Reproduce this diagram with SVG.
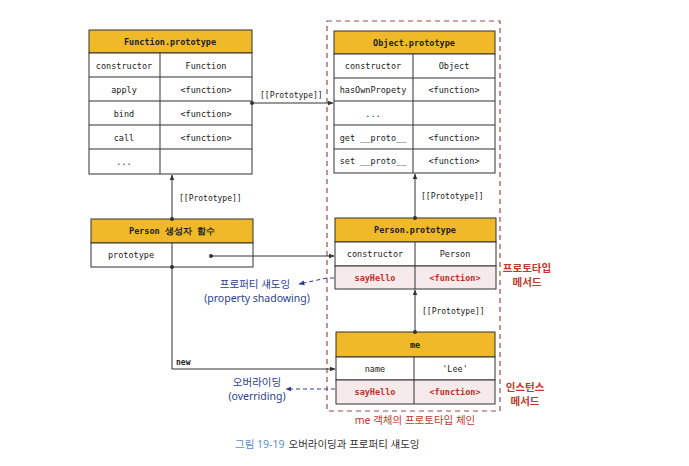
<svg xmlns="http://www.w3.org/2000/svg" width="689" height="466" viewBox="0 0 689 466">
<defs>
<style>
.bg{fill:#ffffff}
.hdr{fill:#F0B92A;stroke:#333;stroke-width:1}
.cell{fill:#ffffff;stroke:#333;stroke-width:1}
.pink{fill:#F7EAEA;stroke:#333;stroke-width:1}
.div{stroke:#333;stroke-width:1}
.mono{font-family:"DejaVu Sans Mono","Liberation Mono",monospace;font-size:8.5px;fill:#222;text-anchor:middle}
.monob{font-family:"DejaVu Sans Mono","Liberation Mono",monospace;font-size:8.5px;font-weight:bold;fill:#222;text-anchor:middle}
.red{fill:#C0302A;font-weight:bold}
.lbl{font-family:"DejaVu Sans Mono","Liberation Mono",monospace;font-size:8px;fill:#222}
.kr{font-family:"Noto Sans","Noto Sans CJK KR",sans-serif;font-size:10.5px;text-anchor:middle}
.blue{fill:#2B3F8F}
.redk{fill:#C0392B}
.conn{fill:none;stroke:#333;stroke-width:1}
.dash{fill:none;stroke:#2B3F8F;stroke-width:1;stroke-dasharray:4 3}
.chain{fill:none;stroke:#A04848;stroke-width:1.2;stroke-dasharray:5 4}
</style>
<marker id="ah" viewBox="0 0 10 10" refX="9" refY="5" markerWidth="6" markerHeight="6" orient="auto-start-reverse"><path d="M0,1 L10,5 L0,9 z" fill="#333"/></marker>
<marker id="ahb" viewBox="0 0 10 10" refX="9" refY="5" markerWidth="6" markerHeight="6" orient="auto-start-reverse"><path d="M0,1 L10,5 L0,9 z" fill="#2B3F8F"/></marker>
</defs>
<rect class="bg" x="0" y="0" width="689" height="466"/>

<g id="chain">
<rect class="chain" x="327" y="21" width="173" height="390"/>
<text class="kr redk" x="415" y="424">me 객체의 프로토타입 체인</text>
</g>

<g id="function-prototype">
<rect class="hdr" x="89" y="30" width="163" height="23"/>
<text class="monob" x="170" y="45">Function.prototype</text>
<rect class="cell" x="89" y="53" width="163" height="121"/>
<line class="div" x1="160" y1="53" x2="160" y2="174"/>
<line class="div" x1="89" y1="77" x2="252" y2="77"/>
<line class="div" x1="89" y1="101" x2="252" y2="101"/>
<line class="div" x1="89" y1="125" x2="252" y2="125"/>
<line class="div" x1="89" y1="149" x2="252" y2="149"/>
<text class="mono" x="124" y="69">constructor</text><text class="mono" x="206" y="69">Function</text>
<text class="mono" x="124" y="93">apply</text><text class="mono" x="206" y="93">&lt;function&gt;</text>
<text class="mono" x="124" y="117">bind</text><text class="mono" x="206" y="117">&lt;function&gt;</text>
<text class="mono" x="124" y="141">call</text><text class="mono" x="206" y="141">&lt;function&gt;</text>
<text class="mono" x="124" y="165">...</text>
</g>

<g id="object-prototype">
<rect class="hdr" x="334" y="31" width="161" height="23"/>
<text class="monob" x="414" y="46">Object.prototype</text>
<rect class="cell" x="334" y="54" width="161" height="119"/>
<line class="div" x1="413" y1="54" x2="413" y2="173"/>
<line class="div" x1="334" y1="78" x2="495" y2="78"/>
<line class="div" x1="334" y1="101" x2="495" y2="101"/>
<line class="div" x1="334" y1="125" x2="495" y2="125"/>
<line class="div" x1="334" y1="149" x2="495" y2="149"/>
<text class="mono" x="373" y="69">constructor</text><text class="mono" x="454" y="69">Object</text>
<text class="mono" x="373" y="93">hasOwnPropety</text><text class="mono" x="454" y="93">&lt;function&gt;</text>
<text class="mono" x="373" y="117">...</text>
<text class="mono" x="373" y="141">get __proto__</text><text class="mono" x="454" y="141">&lt;function&gt;</text>
<text class="mono" x="373" y="164">set __proto__</text><text class="mono" x="454" y="164">&lt;function&gt;</text>
</g>

<g id="person-constructor">
<rect class="hdr" x="91" y="219" width="162" height="24"/>
<text class="monob" x="172" y="234">Person 생성자 함수</text>
<rect class="cell" x="91" y="243" width="162" height="24"/>
<line class="div" x1="172" y1="243" x2="172" y2="267"/>
<text class="mono" x="131" y="258">prototype</text>
</g>

<g id="person-prototype">
<rect class="hdr" x="335" y="218" width="161" height="24"/>
<text class="monob" x="415" y="233">Person.prototype</text>
<rect class="cell" x="335" y="242" width="161" height="24"/>
<rect class="pink" x="335" y="266" width="161" height="23"/>
<line class="div" x1="415" y1="242" x2="415" y2="289"/>
<text class="mono" x="375" y="257">constructor</text><text class="mono" x="455" y="257">Person</text>
<text class="mono red" x="375" y="281">sayHello</text><text class="mono red" x="455" y="281">&lt;function&gt;</text>
<text class="kr redk" x="527" y="272" font-weight="bold">프로토타입</text>
<text class="kr redk" x="527" y="286" font-weight="bold">메서드</text>
</g>

<g id="me">
<rect class="hdr" x="336" y="332" width="159" height="25"/>
<text class="monob" x="415" y="348">me</text>
<rect class="cell" x="336" y="357" width="159" height="23"/>
<rect class="pink" x="336" y="380" width="159" height="24"/>
<line class="div" x1="414" y1="357" x2="414" y2="404"/>
<text class="mono" x="375" y="372">name</text><text class="mono" x="455" y="372">'Lee'</text>
<text class="mono red" x="375" y="395">sayHello</text><text class="mono red" x="455" y="395">&lt;function&gt;</text>
<text class="kr redk" x="525" y="391" font-weight="bold">인스턴스</text>
<text class="kr redk" x="525" y="405" font-weight="bold">메서드</text>
</g>

<g id="connectors">
<circle cx="252" cy="103" r="2" fill="#333"/>
<line class="conn" x1="252" y1="103" x2="333" y2="103" marker-end="url(#ah)"/>
<text class="lbl" x="260" y="98">[[Prototype]]</text>
<circle cx="172" cy="219" r="2" fill="#333"/>
<line class="conn" x1="172" y1="219" x2="172" y2="175" marker-end="url(#ah)"/>
<text class="lbl" x="179" y="201">[[Prototype]]</text>
<circle cx="211" cy="256" r="2" fill="#333"/>
<line class="conn" x1="211" y1="256" x2="334" y2="256" marker-end="url(#ah)"/>
<circle cx="415" cy="218" r="2" fill="#333"/>
<line class="conn" x1="415" y1="218" x2="415" y2="174" marker-end="url(#ah)"/>
<text class="lbl" x="421" y="199">[[Prototype]]</text>
<circle cx="415" cy="332" r="2" fill="#333"/>
<line class="conn" x1="415" y1="332" x2="415" y2="290" marker-end="url(#ah)"/>
<text class="lbl" x="422" y="314">[[Prototype]]</text>
<circle cx="172" cy="267" r="2" fill="#333"/>
<polyline class="conn" points="172,267 172,369 335,369" marker-end="url(#ah)"/>
<text class="lbl" x="176" y="365" font-weight="bold" font-size="7.5">new</text>
<polyline class="dash" points="334,278 327,278 299,284" marker-end="url(#ahb)"/>
<text class="kr blue" x="255" y="288">프로퍼티 섀도잉</text>
<text class="kr blue" x="257" y="302">(property shadowing)</text>
<line class="dash" x1="335" y1="389" x2="286" y2="389" marker-end="url(#ahb)"/>
<text class="kr blue" x="257" y="386">오버라이딩</text>
<text class="kr blue" x="257" y="400">(overriding)</text>
</g>

<g id="caption">
<text x="235" y="448" font-family="Noto Sans, Noto Sans CJK KR, sans-serif" font-size="10.5"><tspan fill="#5A8FC8">그림 19-19</tspan><tspan fill="#333" dx="4">오버라이딩과 프로퍼티 섀도잉</tspan></text>
</g>
</svg>
